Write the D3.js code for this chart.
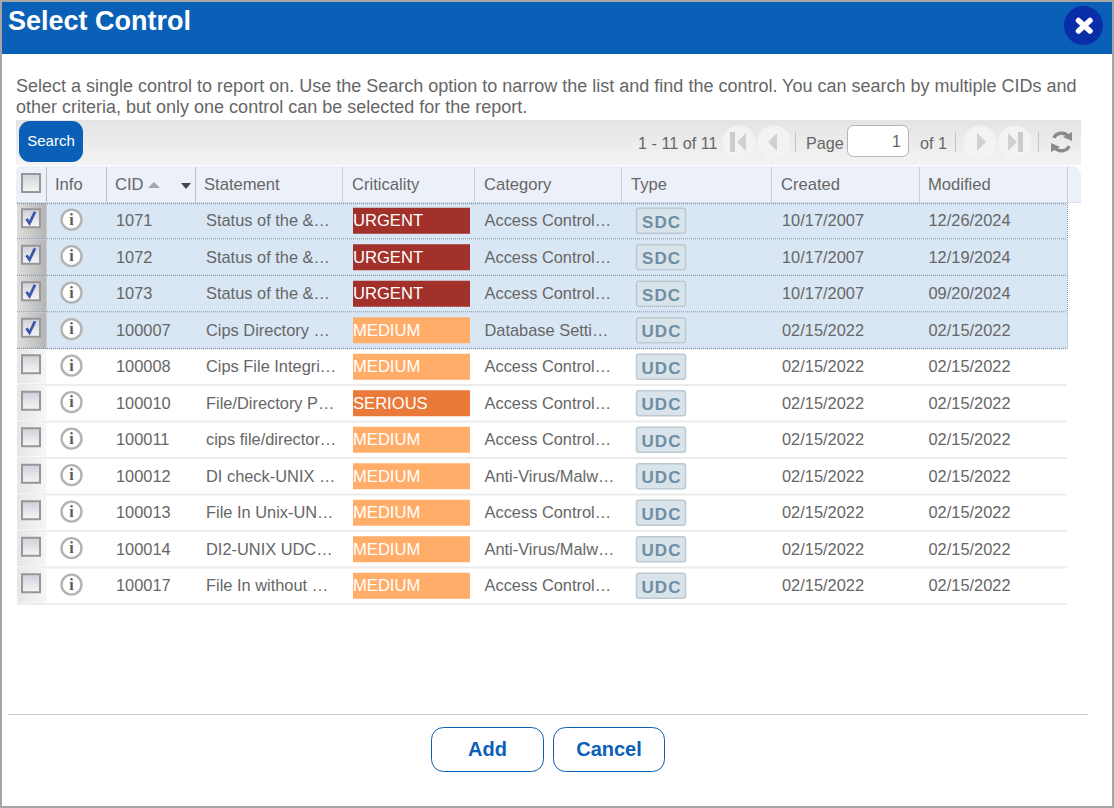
<!DOCTYPE html>
<html><head><meta charset="utf-8">
<script src="https://cdn.jsdelivr.net/npm/d3@7"></script>
<style>html,body{margin:0;padding:0;background:#fff}svg{display:block}text{font-family:"Liberation Sans",Arial,sans-serif}</style>
</head><body><div id="c"></div>
<script>
const cids=["1071","1072","1073","100007","100008","100010","100011","100012","100013","100014","100017"];
const statements=["Status of the &…","Status of the &…","Status of the &…","Cips Directory …","Cips File Integri…","File/Directory P…","cips file/director…","DI check-UNIX …","File In Unix-UN…","DI2-UNIX UDC…","File In without …"];
const criticality=["URGENT","URGENT","URGENT","MEDIUM","MEDIUM","SERIOUS","MEDIUM","MEDIUM","MEDIUM","MEDIUM","MEDIUM"];
const categories=["Access Control…","Access Control…","Access Control…","Database Setti…","Access Control…","Access Control…","Access Control…","Anti-Virus/Malw…","Access Control…","Anti-Virus/Malw…","Access Control…"];
const types=["SDC","SDC","SDC","UDC","UDC","UDC","UDC","UDC","UDC","UDC","UDC"];
const created=["10/17/2007","10/17/2007","10/17/2007","02/15/2022","02/15/2022","02/15/2022","02/15/2022","02/15/2022","02/15/2022","02/15/2022","02/15/2022"];
const modified=["12/26/2024","12/19/2024","09/20/2024","02/15/2022","02/15/2022","02/15/2022","02/15/2022","02/15/2022","02/15/2022","02/15/2022","02/15/2022"];
const selected=[true,true,true,true,false,false,false,false,false,false,false];
const headers=["Info","CID","Statement","Criticality","Category","Type","Created","Modified"];
const critLevels=["URGENT","SERIOUS","MEDIUM"];
const critColors=["#a1312a","#ea7a3a","#ffad69"];

const W=1114,H=808;
const svg=d3.select("#c").append("svg").attr("width",W).attr("height",H);
const defs=svg.append("defs");
const grad=(id,a,b,h)=>{const g=defs.append("linearGradient").attr("id",id).attr("x1",0).attr("y1",0).attr("x2",h?1:0).attr("y2",h?0:1);
 g.append("stop").attr("offset",0).attr("stop-color",a);g.append("stop").attr("offset",1).attr("stop-color",b);};
grad("tb","#e4e4e4","#f3f3f3");grad("cbs","#dedede","#b4b4b4",true);grad("cbu","#e6e6e6","#f6f6f6",true);grad("box","#cfd0d8","#f6f6f8");

const rows=d3.range(cids.length);
const y=d3.scaleBand().domain(rows).range([203,604.5]);
const colEdge=d3.scaleOrdinal().domain(["check",...headers,"end"]).range([17,46,106,195,342,474,621,771,919,1067]);
const crit=d3.scaleOrdinal().domain(critLevels).range(critColors);
const G="#666666",DOT="#8496a8";

// frame and title bar
svg.append("rect").attr("x",1).attr("y",1).attr("width",W-2).attr("height",H-2).attr("fill","#fff").attr("stroke","#a6a6a6").attr("stroke-width",2);
svg.append("rect").attr("x",2).attr("y",2).attr("width",W-4).attr("height",52).attr("fill","#0a60b6");
svg.append("text").attr("x",8).attr("y",30).attr("fill","#fff").attr("font-size",27).attr("font-weight","bold").text("Select Control");
svg.append("circle").attr("cx",1083.4).attr("cy",25.5).attr("r",19.5).attr("fill","#0a2ea8");
svg.append("path").attr("d","M1078.5 20.5L1090 31M1090 20.5L1078.5 31").attr("stroke","#fff").attr("stroke-width",5.5).attr("stroke-linecap","round");

// intro
const intro=svg.append("g").attr("font-size",18).attr("fill",G);
intro.append("text").attr("x",16).attr("y",92).text("Select a single control to report on. Use the Search option to narrow the list and find the control. You can search by multiple CIDs and");
intro.append("text").attr("x",16).attr("y",112.5).text("other criteria, but only one control can be selected for the report.");

// toolbar
svg.append("rect").attr("x",16).attr("y",120).attr("width",1065).attr("height",45).attr("fill","url(#tb)");
svg.append("rect").attr("x",19).attr("y",121).attr("width",64).attr("height",41).attr("rx",11).attr("fill","#0a60b6");
svg.append("text").attr("x",51).attr("y",146).attr("text-anchor","middle").attr("fill","#fff").attr("font-size",15).text("Search");
const tb=svg.append("g").attr("font-size",16.2).attr("fill",G);
tb.append("text").attr("x",638).attr("y",149).text("1 - 11 of 11");
tb.append("text").attr("x",806).attr("y",149).text("Page");
tb.append("text").attr("x",920).attr("y",149).text("of 1");
svg.append("rect").attr("x",847.5).attr("y",125.5).attr("width",61).attr("height",31).attr("rx",6).attr("fill","#fff").attr("stroke","#b5b5b5");
svg.append("text").attr("x",901).attr("y",147).attr("text-anchor","end").attr("font-size",16).attr("fill",G).text("1");
[[739,-1,true],[774,-1,false],[980,1,false],[1015,1,true]].forEach(([cx,d,bar])=>{
 svg.append("circle").attr("cx",cx).attr("cy",142).attr("r",16.5).attr("fill","#f3f3f3");
 const p=d<0?`M${cx+(bar?7:3)} 133L${cx+(bar?-2:-6)} 142L${cx+(bar?7:3)} 151Z`:`M${cx-(bar?7:3)} 133L${cx-(bar?-2:-6)} 142L${cx-(bar?7:3)} 151Z`;
 svg.append("path").attr("d",p).attr("fill","#d0d0d0");
 if(bar)svg.append("rect").attr("x",d<0?cx-9:cx+3).attr("y",132).attr("width",5).attr("height",20).attr("fill","#cccccc");
});
[795,955,1038].forEach(x=>svg.append("line").attr("x1",x+.5).attr("x2",x+.5).attr("y1",132).attr("y2",152).attr("stroke","#c9c4ba"));
const rf=svg.append("g").attr("fill","none").attr("stroke","#8a8a8a").attr("stroke-width",3.4);
rf.append("path").attr("d","M1054 138A8 7 0 0 1 1068 136");
rf.append("path").attr("d","M1069 146A8 7 0 0 1 1055 148");
svg.append("path").attr("d","M1063 137L1072 132L1072 141ZM1060 147L1051 152L1051 143Z").attr("fill","#8a8a8a");

// header
svg.append("path").attr("d","M16 203V171Q16 166 21 166H1071Q1081 166 1081 176V203Z").attr("fill","#ecf1f9");
svg.append("line").attr("x1",16).attr("x2",1081).attr("y1",202.5).attr("y2",202.5).attr("stroke","#d9e3f0");
headers.forEach((h,i)=>{
 const e=colEdge(h);
 svg.append("line").attr("x1",e+.5).attr("x2",e+.5).attr("y1",167).attr("y2",202).attr("stroke",i<3?"#bdbdbd":"#cfcfcf");
 svg.append("text").attr("x",e+(i>2&&i<7?10:9)).attr("y",190).attr("font-size",16.6).attr("fill",G).text(h);
});
svg.append("line").attr("x1",1067.5).attr("x2",1067.5).attr("y1",167).attr("y2",202).attr("stroke","#cfcfcf");
svg.append("path").attr("d","M148 188L154 182L160 188Z").attr("fill","#a6a6a6");
svg.append("path").attr("d","M181 183H191L186 189Z").attr("fill","#444");
function checkbox(g,cy,on){
 g.append("rect").attr("x",22).attr("y",cy-9).attr("width",18).attr("height",18).attr("fill","url(#box)").attr("stroke","#979797").attr("stroke-width",2);
 if(on)g.append("path").attr("d",`M26.5 ${cy+.5}L29.5 ${cy+5}L35 ${cy-6.5}`).attr("fill","none").attr("stroke","#3c57a8").attr("stroke-width",2.8);
}
checkbox(svg.append("g"),183,false);

// rows
const rowG=svg.selectAll("g.row").data(rows).join("g").attr("class","row");
rowG.each(function(i){
 const g=d3.select(this),top=y(i),h=y.bandwidth(),cy=top+h/2-1,base=cy+6;
 if(selected[i]){
  g.append("rect").attr("x",17).attr("y",top).attr("width",1050).attr("height",h).attr("fill","#d9e6f4");
 }
 g.append("rect").attr("x",17).attr("y",top).attr("width",29.5).attr("height",h-(selected[i]?0:2)).attr("fill",selected[i]?"url(#cbs)":"url(#cbu)");
 g.append("line").attr("x1",17).attr("x2",1067).attr("y1",top+h-.5).attr("y2",top+h-.5)
  .attr("stroke",selected[i]?DOT:"#ececec").attr("stroke-width",selected[i]?1.4:2).attr("stroke-dasharray",selected[i]?"1 1":null);
 if(selected[i])g.append("line").attr("x1",1067.5).attr("x2",1067.5).attr("y1",top).attr("y2",top+h).attr("stroke",DOT).attr("stroke-dasharray","1 1");
 if(selected[i]&&i===0)g.append("line").attr("x1",17).attr("x2",1067).attr("y1",top+.5).attr("y2",top+.5).attr("stroke",DOT).attr("stroke-width",1.4).attr("stroke-dasharray","1 1");
 checkbox(g,cy-2,selected[i]);
 // info icon
 g.append("circle").attr("cx",71.5).attr("cy",cy-.6).attr("r",10).attr("fill","#fff").attr("stroke","#b3b3b3").attr("stroke-width",2.4);
 g.append("text").attr("x",71.5).attr("y",cy+4.6).attr("text-anchor","middle").attr("font-size",16).attr("font-weight","bold").attr("fill","#5a5a5a").style("font-family","'Liberation Serif',serif").text("i");
 const tx=(name,dx,s)=>g.append("text").attr("x",colEdge(name)+dx).attr("y",base).attr("font-size",16.4).attr("fill",G).text(s);
 tx("CID",10,cids[i]);tx("Statement",11,statements[i]);tx("Category",10.5,categories[i]);tx("Created",11,created[i]);tx("Modified",9.5,modified[i]);
 // criticality
 g.append("rect").attr("x",353).attr("y",cy-12.5).attr("width",117).attr("height",26).attr("fill",crit(criticality[i]));
 g.append("text").attr("x",353).attr("y",base).attr("font-size",16.6).attr("fill","#fff").text(criticality[i]);
 // type badge
 g.append("rect").attr("x",636.5).attr("y",cy-12).attr("width",49).attr("height",25).attr("rx",2.5).attr("fill","#d9e3ea").attr("stroke","#bcc9d1").attr("stroke-width",1.5);
 g.append("text").attr("x",661.5).attr("y",base+1.5).attr("text-anchor","middle").attr("font-size",17).attr("font-weight","bold").attr("letter-spacing",1).attr("fill","#6d8ea3").text(types[i]);
});

// footer
svg.append("line").attr("x1",8).attr("x2",1088).attr("y1",714.5).attr("y2",714.5).attr("stroke","#c8c8c8");
[["Add",431.5,112,487.5],["Cancel",553.5,111,609]].forEach(([t,x,w,cx])=>{
 svg.append("rect").attr("x",x).attr("y",727.5).attr("width",w).attr("height",44).attr("rx",12).attr("fill","#fff").attr("stroke","#0a60b6");
 svg.append("text").attr("x",cx).attr("y",756).attr("text-anchor","middle").attr("font-size",20).attr("font-weight","bold").attr("fill","#0a60b6").text(t);
});
</script></body></html>
